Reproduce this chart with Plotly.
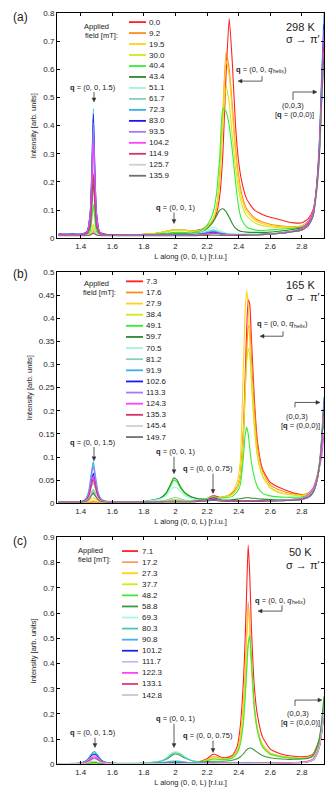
import math
import plotly.graph_objects as go

W, H = 332, 799
FONT = "Liberation Sans, Arial, sans-serif"

# ---------------- panel (a) 298 K ----------------
L_a = [1.26, 1.30, 1.35, 1.40, 1.44, 1.46, 1.47, 1.48, 1.49, 1.50, 1.52, 1.56, 1.60,
       1.70, 1.80, 1.90, 1.95, 2.00, 2.05, 2.10, 2.15, 2.18, 2.21, 2.24,
       2.26, 2.28, 2.30, 2.32, 2.34, 2.36, 2.38, 2.40, 2.42, 2.45,
       2.50, 2.55, 2.60, 2.65, 2.70, 2.75, 2.80, 2.84, 2.87, 2.89, 2.91, 2.925, 2.94]
fields_a = ["0.0", "9.2", "19.5", "30.0", "40.4", "43.4", "51.1", "61.7", "72.3",
            "83.0", "93.5", "104.2", "114.9", "125.7", "135.9"]
colors_a = ["#ff2020", "#ff8c1a", "#ffd21a", "#d4e81a", "#33ee33", "#2a8a2a", "#a0f5dc",
            "#86cfbf", "#3aaeea", "#1a1aee", "#9f7ff0", "#ff40ff", "#d6336c", "#d0d0d0", "#707070"]

a_00 = [.012, .011, .012, .011, .012, .013, .016, .019, .016, .013, .012, .011, .012,
        .012, .014, .020, .026, .030, .029, .026, .030, .036, .048, .065,
        .090, .150, .300, .580, .780, .620, .400, .270, .200, .140,
        .100, .085, .075, .068, .060, .055, .055, .070, .100, .160, .300, .500, .680]
a_09 = [.012, .012, .011, .012, .012, .014, .018, .025, .018, .014, .012, .012, .012,
        .012, .014, .020, .026, .031, .030, .026, .028, .034, .045, .070,
        .110, .220, .450, .660, .600, .470, .320, .220, .155, .105,
        .072, .058, .050, .045, .042, .042, .045, .060, .090, .160, .300, .500, .700]
a_19 = [.012, .011, .012, .012, .012, .015, .022, .035, .022, .015, .012, .012, .012,
        .012, .014, .020, .027, .030, .030, .026, .028, .034, .046, .070,
        .110, .220, .440, .630, .580, .440, .300, .200, .140, .095,
        .065, .052, .046, .042, .040, .040, .043, .058, .090, .160, .300, .500, .680]
a_30 = [.012, .011, .012, .012, .013, .017, .030, .050, .030, .017, .013, .012, .012,
        .012, .014, .019, .025, .028, .028, .025, .027, .033, .046, .072,
        .110, .210, .410, .540, .480, .360, .250, .170, .120, .080,
        .055, .045, .040, .038, .037, .038, .042, .056, .088, .160, .300, .500, .660]
a_40 = [.012, .012, .012, .012, .014, .025, .065, .120, .065, .025, .014, .012, .012,
        .012, .013, .016, .019, .021, .021, .020, .025, .035, .055, .095,
        .160, .290, .460, .450, .400, .310, .200, .110, .065, .040,
        .030, .028, .030, .032, .034, .036, .040, .055, .085, .160, .300, .500, .660]
a_43 = [.012, .012, .012, .012, .016, .040, .110, .200, .110, .040, .016, .012, .012,
        .012, .012, .014, .016, .017, .017, .017, .020, .026, .040, .060,
        .080, .100, .105, .095, .075, .052, .036, .028, .024, .022,
        .021, .021, .022, .025, .028, .032, .038, .052, .085, .160, .300, .500, .660]
a_51 = [.012, .012, .012, .012, .018, .060, .160, .300, .160, .060, .018, .012, .012,
        .012, .012, .013, .014, .014, .014, .015, .018, .024, .032, .040,
        .035, .028, .022, .019, .017, .016, .015, .015, .015, .015,
        .015, .016, .018, .020, .023, .027, .033, .048, .082, .160, .300, .500, .680]
a_61 = [.012, .012, .012, .012, .020, .075, .200, .380, .200, .075, .020, .012, .012,
        .012, .012, .012, .013, .013, .013, .014, .016, .020, .026, .030,
        .027, .022, .018, .016, .015, .014, .014, .014, .014, .014,
        .014, .015, .017, .019, .022, .026, .032, .047, .080, .160, .300, .520, .700]
a_72 = [.013, .013, .012, .013, .022, .090, .240, .460, .240, .090, .022, .013, .012,
        .012, .012, .012, .012, .013, .013, .013, .015, .018, .022, .026,
        .023, .019, .016, .015, .014, .013, .013, .013, .013, .013,
        .013, .014, .016, .018, .021, .025, .031, .046, .080, .170, .340, .580, .800]
a_83 = [.016, .015, .016, .015, .024, .090, .230, .440, .230, .090, .022, .014, .013,
        .012, .012, .012, .012, .012, .012, .013, .014, .016, .019, .022,
        .020, .017, .015, .014, .013, .013, .013, .013, .013, .013,
        .013, .014, .015, .017, .020, .024, .030, .045, .078, .160, .320, .550, .760]
a_93 = [.014, .014, .013, .014, .022, .085, .220, .410, .220, .085, .021, .013, .012,
        .012, .012, .012, .012, .012, .012, .012, .013, .015, .017, .019,
        .018, .016, .014, .013, .013, .012, .012, .012, .012, .012,
        .013, .014, .015, .017, .020, .024, .030, .046, .080, .160, .320, .540, .740]
a_104 = [.013, .013, .012, .013, .020, .070, .180, .340, .180, .070, .020, .012, .012,
         .012, .011, .011, .011, .011, .011, .011, .012, .013, .015, .017,
         .016, .014, .013, .012, .012, .012, .012, .012, .012, .012,
         .013, .014, .016, .018, .022, .027, .036, .060, .095, .170, .320, .520, .720]
a_114 = [.012, .012, .012, .012, .018, .050, .125, .230, .125, .050, .017, .012, .012,
         .011, .011, .011, .011, .011, .011, .011, .012, .013, .014, .016,
         .015, .013, .012, .012, .012, .011, .011, .011, .011, .012,
         .012, .013, .015, .017, .020, .025, .032, .050, .085, .160, .300, .500, .700]
a_125 = [.010, .010, .010, .010, .011, .015, .022, .030, .022, .015, .011, .010, .010,
         .010, .010, .010, .010, .010, .010, .010, .011, .011, .012, .013,
         .013, .012, .011, .011, .011, .011, .011, .011, .011, .011,
         .012, .013, .015, .017, .020, .024, .030, .045, .080, .150, .280, .480, .660]
a_135 = [.009, .009, .009, .009, .010, .012, .015, .018, .015, .012, .010, .009, .009,
         .009, .009, .009, .009, .009, .009, .009, .010, .010, .011, .011,
         .011, .011, .010, .010, .010, .010, .010, .010, .010, .011,
         .012, .013, .015, .017, .020, .024, .030, .044, .078, .150, .280, .480, .660]
series_a = [a_00, a_09, a_19, a_30, a_40, a_43, a_51, a_61, a_72, a_83, a_93,
            a_104, a_114, a_125, a_135]

# ---------------- panels (b) 165 K and (c) 50 K share one L grid ----------------
L_bc = [1.26, 1.30, 1.35, 1.40, 1.43, 1.45, 1.47, 1.48, 1.49, 1.51, 1.53, 1.56, 1.60,
        1.70, 1.80, 1.90, 1.94, 1.97, 1.99, 2.01, 2.03, 2.06, 2.10, 2.15, 2.20,
        2.23, 2.25, 2.28, 2.32, 2.36, 2.39, 2.41, 2.43, 2.44, 2.45, 2.46, 2.47, 2.48, 2.50, 2.52,
        2.55, 2.60, 2.65, 2.70, 2.75, 2.80, 2.84, 2.87, 2.89, 2.91, 2.925, 2.94]

fields_b = ["7.3", "17.6", "27.9", "38.4", "49.1", "59.7", "70.5", "81.2", "91.9",
            "102.6", "113.3", "124.3", "135.3", "145.4", "149.7"]
colors_b = ["#ff2020", "#ff8c1a", "#ffd21a", "#d4e81a", "#33ee33", "#2a8a2a", "#a0f5dc",
            "#86cfbf", "#3aaeea", "#1a1aee", "#9f7ff0", "#ff40ff", "#d6336c", "#d0d0d0", "#707070"]

b_07 = [.003, .003, .003, .003, .003, .003, .003, .003, .003, .003, .003, .003, .003,
        .003, .003, .004, .005, .006, .006, .006, .006, .005, .005, .007, .010,
        .016, .016, .013, .015, .022, .035, .060, .160, .260, .370, .440, .430, .360, .220, .130,
        .075, .045, .035, .028, .022, .019, .022, .032, .050, .085, .130, .220]
b_17 = [.003, .003, .003, .003, .003, .003, .003, .003, .003, .003, .003, .003, .003,
        .003, .003, .004, .005, .006, .006, .006, .006, .005, .005, .007, .010,
        .014, .014, .012, .014, .020, .033, .055, .140, .230, .320, .380, .385, .320, .200, .120,
        .070, .040, .030, .024, .020, .018, .021, .030, .048, .080, .130, .210]
b_27 = [.003, .003, .003, .003, .003, .004, .005, .006, .005, .004, .003, .003, .003,
        .003, .003, .004, .005, .006, .006, .006, .006, .005, .005, .007, .009,
        .012, .012, .012, .015, .025, .045, .090, .300, .410, .460, .430, .350, .270, .160, .100,
        .060, .035, .025, .020, .018, .017, .020, .030, .048, .080, .130, .200]
b_38 = [.003, .003, .003, .003, .004, .006, .011, .012, .010, .006, .004, .003, .003,
        .003, .003, .004, .006, .008, .008, .008, .007, .006, .005, .006, .008,
        .011, .011, .011, .014, .020, .035, .060, .150, .230, .300, .335, .320, .270, .170, .100,
        .060, .033, .024, .020, .018, .017, .020, .030, .050, .085, .140, .220]
b_49 = [.003, .003, .003, .003, .005, .009, .021, .025, .020, .009, .005, .004, .003,
        .003, .004, .010, .020, .038, .050, .046, .034, .021, .013, .010, .010,
        .013, .013, .011, .012, .015, .025, .040, .100, .145, .165, .150, .120, .090, .055, .035,
        .022, .016, .014, .013, .013, .014, .018, .028, .046, .080, .130, .210]
b_59 = [.003, .003, .003, .003, .005, .010, .025, .030, .024, .010, .005, .004, .003,
        .003, .004, .011, .022, .042, .055, .050, .037, .023, .014, .009, .008,
        .009, .009, .008, .007, .008, .009, .010, .011, .012, .012, .012, .012, .011, .011, .010,
        .009, .008, .008, .008, .009, .010, .014, .024, .042, .075, .130, .200]
b_70 = [.003, .003, .003, .003, .005, .008, .017, .020, .016, .008, .005, .004, .003,
        .003, .004, .009, .016, .028, .035, .033, .026, .017, .010, .007, .007,
        .008, .008, .007, .006, .006, .006, .006, .006, .006, .006, .006, .006, .006, .006, .006,
        .006, .006, .007, .007, .008, .010, .014, .025, .045, .080, .140, .220]
b_81 = [.003, .003, .003, .003, .006, .014, .037, .045, .035, .013, .006, .004, .003,
        .003, .003, .005, .007, .010, .012, .012, .010, .007, .005, .005, .006,
        .008, .008, .006, .005, .005, .005, .005, .005, .005, .005, .005, .005, .005, .005, .005,
        .005, .005, .006, .006, .007, .009, .013, .024, .044, .080, .140, .230]
b_91 = [.004, .004, .004, .004, .009, .025, .072, .090, .068, .024, .009, .005, .004,
        .004, .003, .004, .004, .005, .005, .005, .005, .004, .004, .005, .007,
        .010, .010, .007, .005, .005, .005, .005, .005, .005, .005, .005, .005, .005, .005, .005,
        .005, .005, .006, .006, .007, .009, .013, .024, .044, .080, .140, .230]
b_102 = [.003, .003, .003, .003, .007, .018, .052, .065, .050, .018, .007, .004, .003,
         .003, .003, .004, .004, .004, .004, .004, .004, .004, .004, .005, .007,
         .011, .011, .007, .005, .005, .005, .005, .005, .005, .005, .005, .005, .005, .005, .005,
         .005, .005, .006, .006, .007, .009, .013, .023, .042, .078, .130, .220]
b_113 = [.003, .003, .003, .003, .008, .021, .064, .080, .060, .021, .008, .004, .003,
         .003, .003, .004, .004, .004, .004, .004, .004, .004, .004, .005, .006,
         .009, .009, .007, .005, .005, .005, .005, .005, .005, .005, .005, .005, .005, .005, .005,
         .005, .005, .006, .006, .007, .009, .013, .023, .042, .078, .130, .220]
b_124 = [.003, .003, .003, .003, .006, .016, .046, .058, .044, .016, .006, .004, .003,
         .003, .003, .003, .004, .004, .004, .004, .004, .004, .004, .005, .006,
         .008, .008, .006, .005, .005, .005, .005, .005, .005, .005, .005, .005, .005, .005, .005,
         .005, .005, .006, .007, .008, .011, .018, .032, .050, .075, .100, .150]
b_135 = [.003, .003, .003, .003, .006, .015, .042, .052, .040, .015, .006, .004, .003,
         .003, .003, .003, .004, .004, .004, .004, .004, .004, .004, .005, .006,
         .008, .008, .006, .005, .005, .005, .005, .005, .005, .005, .005, .005, .005, .005, .005,
         .005, .005, .006, .006, .007, .009, .013, .023, .042, .078, .130, .210]
b_145 = [.003, .003, .003, .003, .005, .010, .025, .030, .024, .010, .005, .004, .003,
         .003, .003, .003, .003, .003, .003, .003, .003, .003, .003, .004, .005,
         .006, .006, .005, .004, .004, .004, .004, .004, .004, .004, .004, .004, .004, .004, .004,
         .004, .005, .005, .006, .007, .009, .013, .023, .042, .078, .130, .210]
b_149 = [.003, .003, .003, .003, .004, .008, .018, .022, .017, .008, .004, .003, .003,
         .003, .003, .003, .003, .003, .003, .003, .003, .003, .003, .004, .005,
         .006, .006, .005, .004, .004, .004, .004, .004, .004, .004, .004, .004, .004, .004, .004,
         .004, .005, .005, .006, .007, .009, .013, .023, .042, .078, .130, .210]
series_b = [b_07, b_17, b_27, b_38, b_49, b_59, b_70, b_81, b_91, b_102, b_113,
            b_124, b_135, b_145, b_149]

fields_c = ["7.1", "17.2", "27.3", "37.7", "48.2", "58.8", "69.3", "80.3", "90.8",
            "101.2", "111.7", "122.3", "133.1", "142.8"]
colors_c = ["#ff2020", "#f5a060", "#ffd21a", "#d4e81a", "#40e840", "#3a9a3a", "#a8f8e0",
            "#50c8a8", "#40b0f0", "#2020e0", "#c8b8f0", "#ff40ff", "#d0407a", "#c8c8c8"]

c_07 = [.003, .003, .003, .003, .003, .003, .003, .003, .003, .003, .003, .003, .003,
        .003, .003, .004, .005, .006, .006, .006, .006, .005, .006, .010, .022,
        .038, .040, .030, .026, .035, .070, .150, .330, .480, .680, .870, .750, .550, .300, .190,
        .110, .060, .045, .036, .032, .030, .032, .040, .065, .100, .160, .250]
c_17 = [.003, .003, .003, .003, .003, .003, .003, .003, .003, .003, .003, .003, .003,
        .003, .003, .004, .005, .006, .006, .006, .006, .005, .006, .009, .018,
        .030, .031, .025, .022, .030, .055, .110, .250, .360, .510, .645, .560, .410, .220, .140,
        .080, .045, .035, .030, .027, .026, .028, .036, .060, .095, .150, .240]
c_27 = [.003, .003, .003, .003, .003, .003, .003, .003, .003, .003, .003, .003, .003,
        .003, .003, .004, .005, .006, .006, .006, .006, .005, .006, .009, .017,
        .028, .029, .024, .021, .029, .052, .105, .240, .345, .490, .620, .540, .395, .210, .135,
        .078, .044, .034, .029, .026, .025, .027, .035, .058, .092, .150, .240]
c_37 = [.003, .003, .003, .003, .003, .003, .003, .003, .003, .003, .003, .003, .003,
        .003, .003, .004, .005, .006, .007, .007, .006, .005, .006, .008, .014,
        .022, .023, .020, .020, .025, .045, .080, .170, .255, .360, .470, .505, .420, .220, .130,
        .070, .040, .032, .027, .024, .023, .025, .033, .055, .090, .150, .250]
c_48 = [.003, .003, .003, .003, .003, .004, .005, .005, .005, .004, .003, .003, .003,
        .003, .004, .006, .008, .010, .011, .011, .010, .008, .007, .009, .014,
        .020, .021, .019, .019, .025, .045, .080, .170, .260, .370, .480, .510, .420, .220, .130,
        .070, .040, .032, .027, .024, .023, .025, .033, .055, .090, .150, .250]
c_58 = [.003, .003, .003, .003, .004, .006, .008, .008, .008, .006, .004, .003, .003,
        .003, .005, .012, .020, .032, .040, .040, .035, .025, .015, .010, .010,
        .012, .012, .012, .013, .016, .022, .030, .042, .050, .057, .062, .065, .064, .056, .047,
        .035, .026, .022, .020, .020, .021, .024, .035, .060, .100, .170, .270]
c_69 = [.003, .003, .003, .004, .006, .010, .017, .019, .020, .015, .009, .005, .004,
        .004, .005, .012, .025, .042, .050, .050, .044, .030, .016, .008, .006,
        .006, .006, .006, .006, .006, .006, .007, .007, .008, .008, .008, .008, .008, .007, .007,
        .006, .006, .006, .006, .007, .008, .011, .018, .035, .070, .130, .220]
c_80 = [.003, .003, .003, .005, .012, .022, .039, .044, .045, .032, .017, .007, .004,
        .004, .005, .011, .022, .037, .045, .045, .040, .027, .015, .008, .006,
        .006, .006, .005, .005, .005, .005, .005, .005, .005, .005, .005, .005, .005, .005, .005,
        .005, .005, .005, .006, .007, .008, .011, .018, .035, .070, .130, .220]
c_90 = [.003, .003, .004, .005, .013, .025, .043, .049, .050, .035, .018, .008, .004,
        .003, .003, .006, .009, .012, .013, .013, .012, .009, .006, .005, .005,
        .005, .005, .005, .005, .005, .005, .005, .005, .005, .005, .005, .005, .005, .005, .005,
        .005, .005, .005, .006, .007, .008, .011, .018, .035, .070, .130, .220]
c_101 = [.003, .003, .003, .005, .011, .020, .035, .039, .040, .028, .015, .006, .004,
         .003, .003, .004, .005, .006, .006, .006, .006, .005, .004, .004, .004,
         .005, .005, .004, .004, .004, .004, .004, .004, .004, .004, .004, .004, .004, .004, .004,
         .004, .004, .005, .005, .006, .007, .010, .017, .033, .068, .125, .210]
c_111 = [.003, .003, .003, .004, .010, .018, .030, .034, .035, .025, .013, .006, .004,
         .003, .003, .003, .004, .004, .004, .004, .004, .004, .004, .004, .004,
         .004, .004, .004, .004, .004, .004, .004, .004, .004, .004, .004, .004, .004, .004, .004,
         .004, .004, .005, .005, .006, .007, .010, .017, .033, .068, .125, .210]
c_122 = [.003, .003, .003, .004, .008, .015, .026, .029, .030, .021, .011, .005, .003,
         .003, .003, .003, .003, .003, .003, .003, .003, .003, .003, .003, .004,
         .004, .004, .004, .004, .004, .004, .004, .004, .004, .004, .004, .004, .004, .004, .004,
         .004, .004, .005, .006, .007, .009, .013, .022, .040, .070, .120, .200]
c_133 = [.003, .003, .003, .004, .007, .013, .021, .024, .025, .018, .010, .005, .003,
         .003, .003, .003, .003, .003, .003, .003, .003, .003, .003, .003, .004,
         .004, .004, .004, .004, .004, .004, .004, .004, .004, .004, .004, .004, .004, .004, .004,
         .004, .004, .005, .005, .006, .007, .010, .017, .033, .068, .125, .210]
c_142 = [.003, .003, .003, .003, .005, .007, .011, .012, .012, .009, .006, .004, .003,
         .003, .003, .003, .003, .003, .003, .003, .003, .003, .003, .003, .003,
         .004, .004, .004, .004, .004, .004, .004, .004, .004, .004, .004, .004, .004, .004, .004,
         .004, .004, .005, .005, .006, .007, .010, .017, .033, .068, .125, .210]
series_c = [c_07, c_17, c_27, c_37, c_48, c_58, c_69, c_80, c_90, c_101, c_111,
            c_122, c_133, c_142]

x_ticks = [1.4, 1.6, 1.8, 2.0, 2.2, 2.4, 2.6, 2.8]
x_range = [1.25, 2.94]
y_ranges = [[0, 0.8], [0, 0.5], [0, 0.9]]
y_dticks = [0.1, 0.05, 0.1]
temps = ["298 K", "165 K", "50 K"]
labels = ["(a)", "(b)", "(c)"]
x_title = "L along (0, 0, L) [r.l.u.]"
y_title = "Intensity [arb. units]"

for L, ss in ((L_a, series_a), (L_bc, series_b), (L_bc, series_c)):
    for s in ss:
        assert len(s) == len(L), (len(s), len(L))


def px(x):
    return x / W


def py(y):
    return 1 - y / H


# pixel frames of the three panels: (top, bottom)
frames = [(9, 237), (271, 505), (539.5, 769)]
X0, X1 = 57, 324

fig = go.Figure()
panels = [(L_a, series_a, fields_a, colors_a),
          (L_bc, series_b, fields_b, colors_b),
          (L_bc, series_c, fields_c, colors_c)]

for i, (L, ss, ff, cc) in enumerate(panels):
    sfx = "" if i == 0 else str(i + 1)
    for s, f, c in zip(ss, ff, cc):
        fig.add_trace(go.Scatter(x=L, y=s, mode="lines", name=f + " mT",
                                 line=dict(color=c, width=1.1, shape="spline", smoothing=0.5),
                                 xaxis="x" + sfx, yaxis="y" + sfx, showlegend=False))

axis_common = dict(showline=True, linecolor="black", linewidth=1, mirror="ticks",
                   ticks="inside", ticklen=3, tickcolor="black", showgrid=False,
                   zeroline=False, tickfont=dict(family=FONT, size=8, color="#222"))
layout = dict(width=W, height=H, margin=dict(l=0, r=0, t=0, b=0),
              paper_bgcolor="white", plot_bgcolor="white",
              font=dict(family=FONT, color="#222"))
for i, (top, bot) in enumerate(frames):
    sfx = "" if i == 0 else str(i + 1)
    layout["xaxis" + sfx] = dict(axis_common, domain=[px(X0), px(X1)], range=x_range,
                                 tickvals=x_ticks, anchor="y" + sfx,
                                 title=dict(text=x_title, standoff=3,
                                            font=dict(family=FONT, size=7.5, color="#222")))
    layout["yaxis" + sfx] = dict(axis_common, domain=[py(bot), py(top)], range=y_ranges[i],
                                 dtick=y_dticks[i], tick0=0, anchor="x" + sfx,
                                 title=dict(text=y_title, standoff=5,
                                            font=dict(family=FONT, size=7.5, color="#222")))
fig.update_layout(**layout)

ann = []
shapes = []


def text(x, y, t, size=7.5, xanchor="center", angle=0):
    ann.append(dict(x=px(x), y=py(y), xref="paper", yref="paper", text=t, showarrow=False,
                    xanchor=xanchor, yanchor="middle", textangle=angle, borderpad=0,
                    font=dict(family=FONT, size=size, color="#222")))


def seg(x0, y0, x1, y1):
    shapes.append(dict(type="line", xref="paper", yref="paper", x0=px(x0), y0=py(y0),
                       x1=px(x1), y1=py(y1), line=dict(color="#333", width=0.8)))


def arrow(xh, yh, xt, yt, hl=4.0, hw=1.9):
    dx, dy = xh - xt, yh - yt
    n = math.hypot(dx, dy)
    ux, uy = dx / n, dy / n
    bx, by = xh - ux * hl, yh - uy * hl
    seg(xt, yt, bx, by)
    p1 = (bx - uy * hw, by + ux * hw)
    p2 = (bx + uy * hw, by - ux * hw)
    path = "M {:.5f},{:.5f} L {:.5f},{:.5f} L {:.5f},{:.5f} Z".format(
        px(xh), py(yh), px(p1[0]), py(p1[1]), px(p2[0]), py(p2[1]))
    shapes.append(dict(type="path", xref="paper", yref="paper", path=path,
                       fillcolor="#333", line=dict(color="#333", width=0.5)))


def helix_label(xc, y):
    # "q = (0, 0, q_helix)" built from three pieces; subscript drawn smaller and lower
    split = xc - 25 + 36.5
    text(split, y, "<b>q</b> = (0, 0, <i>q</i>", xanchor="right")
    text(split - 1.6, y + 2.2, "helix", size=5.3, xanchor="left")
    text(split + 9.8, y, ")", xanchor="left")


# legends
leg = [dict(x0=129, x1=146, xt=148, y0=18.3, dy=11.1),
       dict(x0=126, x1=143, xt=145, y0=280.5, dy=11.25),
       dict(x0=122, x1=138, xt=141, y0=553.3, dy=11.2)]
app = [(96, 23, 101, 32), (96, 283, 99, 292), (90, 553, 94, 562)]
for i, (L, ss, ff, cc) in enumerate(panels):
    g = leg[i]
    for k, (f, c) in enumerate(zip(ff, cc)):
        y = g["y0"] + k * g["dy"]
        shapes.append(dict(type="line", xref="paper", yref="paper", x0=px(g["x0"]), x1=px(g["x1"]),
                           y0=py(y), y1=py(y), line=dict(color=c, width=1.8)))
        text(g["xt"], y, f, size=8, xanchor="left")
    a = app[i]
    text(a[0], a[1], "Applied", size=7.5)
    text(a[2], a[3], "field [mT]:", size=7.5)

# panel letters, temperatures
for i, (top, bot) in enumerate(frames):
    text(20, [13, 273, 543][i], labels[i], size=12)
    text(300, [23, 284, 554][i], temps[i], size=11)
    text(303, [35, 296, 567][i], "σ → π′", size=11)

q = "<b>q</b>"
# (a)
text(93, 84, q + " = (0, 0, 1.5)")
arrow(94, 99, 94, 89)
text(175, 206, q + " = (0, 0, 1)")
arrow(174, 222, 174, 211)
helix_label(262, 66)
arrow(238, 78, 262, 78)
seg(262, 78, 262, 73)
text(293, 103, "(0,0,3)")
text(294, 112, "[" + q + " = (0,0,0)]")
seg(293, 97, 293, 89)
arrow(317, 89, 293, 89)
# (b)
text(93, 443, q + " = (0, 0, 1.5)")
arrow(94, 462, 94, 448)
text(175, 453, q + " = (0, 0, 1)")
arrow(174, 475, 174, 458)
text(208, 470, q + " = (0, 0, 0.75)")
arrow(213, 495, 213, 475)
helix_label(283, 323)
arrow(260, 336, 283, 336)
seg(283, 336, 283, 331)
text(297, 417, "(0,0,3)")
text(300, 426, "[" + q + " = (0,0,0)]")
seg(295, 408, 295, 403)
arrow(320, 403, 295, 403)
# (c)
text(93, 737, q + " = (0, 0, 1.5)")
arrow(95, 752, 95, 742)
text(175, 723, q + " = (0, 0, 1)")
arrow(174, 752, 174, 728)
text(208, 740, q + " = (0, 0, 0.75)")
arrow(213, 757, 213, 745)
helix_label(281, 603)
arrow(258, 614, 282, 614)
seg(282, 614, 282, 608)
text(298, 718, "(0,0,3)")
text(300, 727, "[" + q + " = (0,0,0)]")
seg(295, 710, 295, 704)
arrow(322, 704, 295, 704)

fig.update_layout(annotations=ann, shapes=shapes)
fig.write_html("out.html", config={"displayModeBar": False},
               post_script="document.body.style.margin='0';document.body.style.overflow='hidden';")
